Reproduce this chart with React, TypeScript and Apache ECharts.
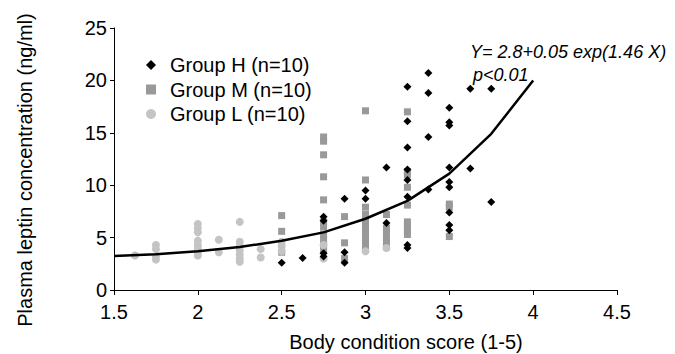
import React, { useEffect, useRef } from "react";
import * as echarts from "echarts";

const FONT = "'Liberation Sans', Arial, Helvetica, sans-serif";

// Group H (black diamonds): [BCS, leptin]
const groupH: number[][] = [
  [2.5, 2.6], [2.625, 3.05],
  [2.75, 7.0], [2.75, 6.6], [2.75, 3.5], [2.75, 3.2],
  [2.875, 8.7], [2.875, 3.6], [2.875, 2.6],
  [3, 9.5], [3, 8.7],
  [3.125, 11.7], [3.125, 6.4],
  [3.25, 19.4], [3.25, 16.1], [3.25, 13.6], [3.25, 11.5], [3.25, 10.5], [3.25, 8.9], [3.25, 4.3], [3.25, 4.0],
  [3.375, 20.7], [3.375, 18.8], [3.375, 14.6], [3.375, 9.6],
  [3.5, 17.4], [3.5, 16.0], [3.5, 15.7], [3.5, 11.7], [3.5, 10.3], [3.5, 9.8], [3.5, 7.4], [3.5, 6.2], [3.5, 5.7],
  [3.625, 19.2], [3.625, 11.6],
  [3.75, 19.2], [3.75, 8.4],
];

// Group M (grey squares)
const groupM: number[][] = [
  [2.5, 7.1], [2.5, 5.6], [2.5, 3.6],
  [2.75, 14.6], [2.75, 14.2], [2.75, 12.9], [2.75, 10.8], [2.75, 8.6], [2.75, 6.5], [2.75, 6.0], [2.75, 5.3], [2.75, 4.8], [2.75, 4.3], [2.75, 3.8],
  [2.875, 7.0], [2.875, 4.5], [2.875, 3.0],
  [3, 17.1], [3, 10.5], [3, 7.9], [3, 7.2], [3, 6.8], [3, 6.4], [3, 6.0], [3, 5.6], [3, 5.2], [3, 4.8], [3, 4.4], [3, 4.0],
  [3.125, 7.2], [3.125, 5.9], [3.125, 5.4], [3.125, 5.0], [3.125, 4.5], [3.125, 4.1],
  [3.25, 17.0], [3.25, 11.3], [3.25, 11.0], [3.25, 9.8], [3.25, 8.1], [3.25, 6.5], [3.25, 6.1], [3.25, 5.7], [3.25, 5.3],
  [3.5, 8.2], [3.5, 7.9], [3.5, 5.1],
];

// Group L (light grey circles)
const groupL: number[][] = [
  [1.625, 3.3],
  [1.75, 4.3], [1.75, 3.9], [1.75, 3.2], [1.75, 2.9],
  [2, 6.3], [2, 5.9], [2, 5.5], [2, 4.7], [2, 4.3], [2, 4.0], [2, 3.6], [2, 3.3],
  [2.125, 4.8], [2.125, 3.6],
  [2.25, 6.5], [2.25, 4.6], [2.25, 4.2], [2.25, 3.8], [2.25, 3.4], [2.25, 3.0], [2.25, 2.7],
  [2.375, 3.9], [2.375, 3.1],
  [2.5, 4.6], [2.5, 4.2], [2.5, 3.7],
  [2.75, 4.3], [2.75, 3.0],
  [3, 3.7],
  [3.125, 4.0],
];

// Fitted curve as drawn
const fitCurve: number[][] = [
  [1.5, 3.25], [1.75, 3.4], [2, 3.7], [2.25, 4.1], [2.5, 4.7], [2.75, 5.5],
  [3, 6.8], [3.25, 8.5], [3.5, 11.1], [3.75, 14.9], [4, 20.0],
];

const xTicks = { min: 1.5, max: 4.5, interval: 0.5 };
const yTicks = { min: 0, max: 25, interval: 5 };

const seriesNames = ["Group H (n=10)", "Group M (n=10)", "Group L (n=10)"];
const equationText = "Y= 2.8+0.05 exp(1.46 X)";
const pText = "p<0.01";
const xTitle = "Body condition score (1-5)";
const yTitle = "Plasma leptin concentration (ng/ml)";

export default function App() {
  const ref = useRef<HTMLDivElement>(null);

  useEffect(() => {
    if (!ref.current) return;
    const chart = echarts.init(ref.current, undefined, { renderer: "svg" });
    const axisCommon = {
      axisLine: { show: true, lineStyle: { color: "#000", width: 1 } },
      axisTick: { show: true, length: 4, lineStyle: { color: "#000", width: 1 } },
      splitLine: { show: false },
    };
    chart.setOption({
      animation: false,
      backgroundColor: "#fff",
      grid: { left: 114, right: 58, top: 28, bottom: 64, containLabel: false },
      xAxis: {
        type: "value",
        ...xTicks,
        ...axisCommon,
        axisTick: { show: true, length: 5, lineStyle: { color: "#000", width: 1 } },
        axisLabel: { color: "#000", fontSize: 20, fontFamily: FONT, margin: 12 },
      },
      yAxis: {
        type: "value",
        ...yTicks,
        ...axisCommon,
        axisLabel: { color: "#000", fontSize: 20, fontFamily: FONT, margin: 7 },
      },
      legend: {
        data: seriesNames,
        orient: "vertical",
        left: 141,
        top: 50,
        itemWidth: 10,
        itemHeight: 10,
        itemGap: 4.5,
        textStyle: {
          color: "#000",
          fontSize: 20,
          fontFamily: FONT,
          lineHeight: 20,
          padding: [0, 0, 0, 9],
        },
      },
      graphic: [
        {
          type: "text",
          left: 470,
          top: 43,
          style: {
            text: equationText,
            fontSize: 18,
            fontStyle: "italic",
            fontFamily: FONT,
            fill: "#000",
          },
        },
        {
          type: "text",
          left: 473,
          top: 66,
          style: {
            text: pText,
            fontSize: 18,
            fontStyle: "italic",
            fontFamily: FONT,
            fill: "#000",
          },
        },
        {
          type: "text",
          x: 406,
          y: 342,
          style: {
            text: xTitle,
            fontSize: 20,
            fontFamily: FONT,
            fill: "#000",
            textAlign: "center",
            textVerticalAlign: "middle",
          },
        },
        {
          type: "text",
          x: 25,
          y: 170,
          rotation: Math.PI / 2,
          style: {
            text: yTitle,
            fontSize: 20,
            fontFamily: FONT,
            fill: "#000",
            textAlign: "center",
            textVerticalAlign: "middle",
          },
        },
      ],
      series: [
        {
          name: seriesNames[1],
          type: "scatter",
          data: groupM,
          symbol: "rect",
          symbolSize: 7,
          itemStyle: { color: "#999999", opacity: 1 },
          z: 2,
        },
        {
          name: seriesNames[2],
          type: "scatter",
          data: groupL,
          symbol: "circle",
          symbolSize: 8,
          itemStyle: { color: "#c4c4c4", opacity: 1 },
          z: 3,
        },
        {
          name: seriesNames[0],
          type: "scatter",
          data: groupH,
          symbol: "diamond",
          symbolSize: 8,
          itemStyle: { color: "#000000", opacity: 1 },
          z: 4,
        },
        {
          name: "fit",
          type: "line",
          data: fitCurve,
          showSymbol: false,
          symbol: "none",
          smooth: false,
          lineStyle: { color: "#000", width: 2.5 },
          z: 5,
        },
      ],
    });
    return () => chart.dispose();
  }, []);

  return (
    <div
      ref={ref}
      style={{ position: "fixed", left: 0, top: 0, width: 675, height: 354, background: "#fff" }}
    />
  );
}
